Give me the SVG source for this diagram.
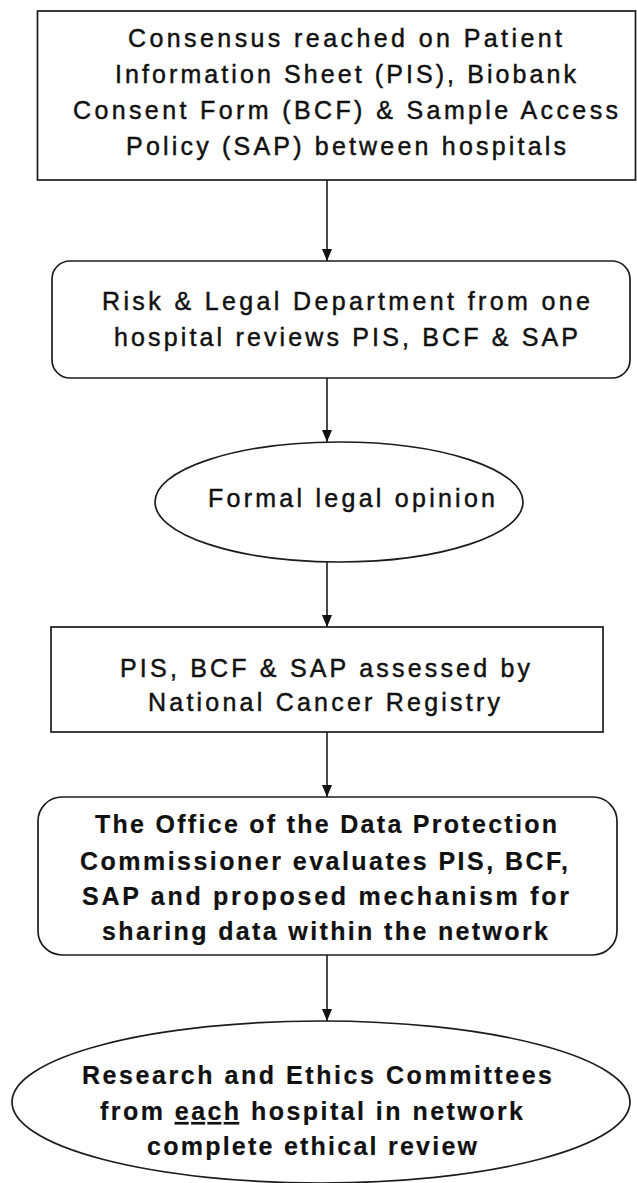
<svg xmlns="http://www.w3.org/2000/svg" width="637" height="1183" viewBox="0 0 637 1183">
<style>
.shape{fill:#fff;stroke:#1c1c1c;stroke-width:1.7}
.t{font-family:"Liberation Sans",Arial,sans-serif;font-size:25px;fill:#111;stroke:#111;stroke-width:0.45}
.b{font-weight:bold;stroke-width:0.2}
.conn{stroke:#1c1c1c;stroke-width:1.6;fill:none}
</style>
<defs>
<marker id="arr" viewBox="0 0 12 10" refX="12" refY="5" markerWidth="12" markerHeight="10" markerUnits="userSpaceOnUse" orient="auto">
<path d="M0,0 L12,5 L0,10 z" fill="#111"/>
</marker>
</defs>
<rect width="637" height="1183" fill="#fff"/>
<g id="connectors">
<line class="conn" x1="327" y1="180" x2="327" y2="261" marker-end="url(#arr)"/>
<line class="conn" x1="327" y1="378" x2="327" y2="442" marker-end="url(#arr)"/>
<line class="conn" x1="327" y1="562" x2="327" y2="627" marker-end="url(#arr)"/>
<line class="conn" x1="327" y1="732" x2="327" y2="797" marker-end="url(#arr)"/>
<line class="conn" x1="327" y1="955" x2="327" y2="1021" marker-end="url(#arr)"/>
</g>
<g id="node1">
<rect class="shape" x="37.5" y="11" width="598" height="169"/>
<text class="t" x="128" y="47" textLength="434" lengthAdjust="spacing">Consensus reached on Patient</text>
<text class="t" x="115" y="83" textLength="461" lengthAdjust="spacing">Information Sheet (PIS), Biobank</text>
<text class="t" x="73" y="119" textLength="545" lengthAdjust="spacing">Consent Form (BCF) &amp; Sample Access</text>
<text class="t" x="126" y="155" textLength="440" lengthAdjust="spacing">Policy (SAP) between hospitals</text>
</g>
<g id="node2">
<rect class="shape" x="52" y="261" width="578" height="117" rx="18" ry="18"/>
<text class="t" x="102" y="310" textLength="488" lengthAdjust="spacing">Risk &amp; Legal Department from one</text>
<text class="t" x="114" y="346" textLength="464" lengthAdjust="spacing">hospital reviews PIS, BCF &amp; SAP</text>
</g>
<g id="node3">
<ellipse class="shape" cx="339" cy="502" rx="184" ry="60"/>
<text class="t" x="208" y="507" textLength="287" lengthAdjust="spacing">Formal legal opinion</text>
</g>
<g id="node4">
<rect class="shape" x="51" y="627" width="552" height="105"/>
<text class="t" x="120" y="677" textLength="410" lengthAdjust="spacing">PIS, BCF &amp; SAP assessed by</text>
<text class="t" x="148" y="711" textLength="352" lengthAdjust="spacing">National Cancer Registry</text>
</g>
<g id="node5">
<rect class="shape" x="38" y="797" width="579" height="158" rx="24" ry="24"/>
<text class="t b" x="95" y="833" textLength="462" lengthAdjust="spacing">The Office of the Data Protection</text>
<text class="t b" x="80" y="870" textLength="488" lengthAdjust="spacing">Commissioner evaluates PIS, BCF,</text>
<text class="t b" x="82" y="905" textLength="487" lengthAdjust="spacing">SAP and proposed mechanism for</text>
<text class="t b" x="102" y="940" textLength="446" lengthAdjust="spacing">sharing data within the network</text>
</g>
<g id="node6">
<ellipse class="shape" cx="321" cy="1102" rx="309" ry="81"/>
<text class="t b" x="82" y="1084" textLength="470" lengthAdjust="spacing">Research and Ethics Committees</text>
<text class="t b" x="100" y="1120" textLength="423" lengthAdjust="spacing">from <tspan text-decoration="underline">each</tspan> hospital in network</text>
<text class="t b" x="147" y="1155" textLength="330" lengthAdjust="spacing">complete ethical review</text>
</g>
</svg>
